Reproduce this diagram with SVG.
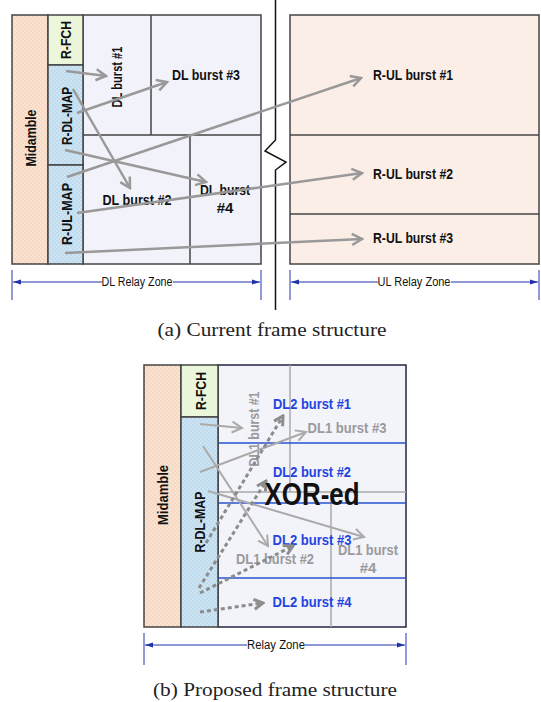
<svg xmlns="http://www.w3.org/2000/svg" width="541" height="702" viewBox="0 0 541 702">
<style>
.t{font-family:"Liberation Sans Narrow","Liberation Sans",Arial,sans-serif;font-weight:bold;font-size:15px;fill:#111;}
.c{text-anchor:middle;}
.blue{fill:#1f45e0;}
.gray{fill:#9a9a9a;}
.dim{font-family:"Liberation Sans Narrow","Liberation Sans",Arial,sans-serif;font-size:12.5px;fill:#111;text-anchor:middle;}
.cap{font-family:"Liberation Serif","Times New Roman",serif;font-size:19px;fill:#222;text-anchor:middle;}
.box{stroke:#444;stroke-width:1.5;}
.arA{fill:none;stroke:#999;stroke-width:2.5;marker-end:url(#ahA);}
.arS{fill:none;stroke:#aaa;stroke-width:2;marker-end:url(#ahS);}
.arD{fill:none;stroke:#8c8c8c;stroke-width:3;stroke-dasharray:4 3;marker-end:url(#ahD);}
.bl{stroke:#2a52d0;stroke-width:1.5;}
.gl{stroke:#aaa;stroke-width:1.5;}
.dl{stroke:#2233aa;stroke-width:1;fill:none;}
.tick{stroke:#6a78c8;stroke-width:1.5;}
</style>
<defs>
<pattern id="pMid" width="4" height="4" patternUnits="userSpaceOnUse">
<rect width="4" height="4" fill="#fbe3d1"/>
<circle cx="1" cy="1" r="0.7" fill="#efc6ad"/>
<circle cx="3" cy="3" r="0.7" fill="#efc6ad"/>
</pattern>
<pattern id="pMap" width="4" height="4" patternUnits="userSpaceOnUse">
<rect width="4" height="4" fill="#cde4f3"/>
<circle cx="1" cy="1" r="0.7" fill="#a9cbe6"/>
<circle cx="3" cy="3" r="0.7" fill="#a9cbe6"/>
</pattern>
<marker id="ahA" viewBox="0 0 14 14" refX="12" refY="7" markerWidth="14" markerHeight="14" orient="auto" markerUnits="userSpaceOnUse">
<path d="M2,1.5 L12,7 L2,12.5" fill="none" stroke="#999" stroke-width="2.5"/>
</marker>
<marker id="ahS" viewBox="0 0 14 14" refX="12" refY="7" markerWidth="14" markerHeight="14" orient="auto" markerUnits="userSpaceOnUse">
<path d="M2,1.5 L12,7 L2,12.5" fill="none" stroke="#aaa" stroke-width="2"/>
</marker>
<marker id="ahD" viewBox="0 0 14 14" refX="12" refY="7" markerWidth="14" markerHeight="14" orient="auto" markerUnits="userSpaceOnUse">
<path d="M3,2 L12,7 L3,12" fill="none" stroke="#8c8c8c" stroke-width="3"/>
</marker>
<marker id="dimA" viewBox="0 0 8 6" refX="8" refY="3" markerWidth="8" markerHeight="6" orient="auto" markerUnits="userSpaceOnUse">
<path d="M0,0.5 L8,3 L0,5.5 Z" fill="#2233aa"/>
</marker>
</defs>
<rect width="541" height="702" fill="#fff"/>

<!-- ===== (a) Current frame structure ===== -->
<g id="a-dl-area"><rect x="83" y="15" width="178" height="249" fill="#f2f2fa" class="box"/></g>
<g id="a-midamble"><rect x="12" y="15" width="36" height="249" fill="url(#pMid)" class="box"/>
<text class="t c" transform="translate(31,138) rotate(-90)" y="5" textLength="57" lengthAdjust="spacingAndGlyphs">Midamble</text></g>
<g id="a-rfch"><rect x="48" y="15" width="35" height="50" fill="#ebf6da" class="box"/>
<text class="t c" transform="translate(66,40) rotate(-90)" y="5" textLength="38" lengthAdjust="spacingAndGlyphs">R-FCH</text></g>
<g id="a-rdlmap"><rect x="48" y="65" width="35" height="100" fill="url(#pMap)" class="box"/>
<text class="t c" transform="translate(67,116) rotate(-90)" y="5" textLength="58" lengthAdjust="spacingAndGlyphs">R-DL-MAP</text></g>
<g id="a-rulmap"><rect x="48" y="165" width="35" height="99" fill="url(#pMap)" class="box"/>
<text class="t c" transform="translate(67,214) rotate(-90)" y="5" textLength="62" lengthAdjust="spacingAndGlyphs">R-UL-MAP</text></g>
<g id="a-dl1"><line x1="151" y1="15" x2="151" y2="135" class="box"/>
<text class="t c" transform="translate(117,77) rotate(-90)" y="5" textLength="61" lengthAdjust="spacingAndGlyphs">DL burst #1</text></g>
<g id="a-dl3"><text class="t c" x="206" y="80" textLength="68" lengthAdjust="spacingAndGlyphs">DL burst #3</text></g>
<g id="a-dl2"><line x1="83" y1="135" x2="261" y2="135" class="box"/>
<text class="t c" x="137" y="205" textLength="69" lengthAdjust="spacingAndGlyphs">DL burst #2</text></g>
<g id="a-dl4"><line x1="190" y1="135" x2="190" y2="264" class="box"/>
<text class="t c" x="225" y="195" textLength="50" lengthAdjust="spacingAndGlyphs">DL burst</text>
<text class="t c" x="225" y="213">#4</text></g>

<g id="a-break"><path d="M275.5,0 V140 L265,151 L286,162 L275.5,170 V310" fill="none" stroke="#111" stroke-width="1.5"/></g>

<g id="a-ul-area"><rect x="290" y="15" width="249" height="249" fill="#fbeee6" class="box"/>
<line x1="290" y1="135" x2="539" y2="135" class="box"/>
<line x1="290" y1="214" x2="539" y2="214" class="box"/></g>
<g id="a-ul1"><text class="t c" x="413" y="80" textLength="80" lengthAdjust="spacingAndGlyphs">R-UL burst #1</text></g>
<g id="a-ul2"><text class="t c" x="413" y="179" textLength="80" lengthAdjust="spacingAndGlyphs">R-UL burst #2</text></g>
<g id="a-ul3"><text class="t c" x="413" y="243" textLength="80" lengthAdjust="spacingAndGlyphs">R-UL burst #3</text></g>

<g id="a-connectors">
<line x1="66" y1="71" x2="106" y2="76" class="arA"/>
<line x1="77" y1="113" x2="167" y2="82" class="arA"/>
<line x1="73" y1="89" x2="130" y2="188" class="arA"/>
<line x1="65" y1="150" x2="206" y2="182" class="arA"/>
<line x1="67" y1="177" x2="361" y2="78" class="arA"/>
<line x1="77" y1="213" x2="362" y2="173" class="arA"/>
<line x1="65" y1="253" x2="362" y2="239" class="arA"/>
</g>

<g id="a-dim">
<line x1="12" y1="270" x2="12" y2="300" class="tick"/>
<line x1="261" y1="270" x2="261" y2="300" class="tick"/>
<line x1="290" y1="270" x2="290" y2="300" class="tick"/>
<line x1="539" y1="270" x2="539" y2="300" class="tick"/>
<line x1="102" y1="282" x2="13" y2="282" class="dl" marker-end="url(#dimA)"/>
<line x1="173" y1="282" x2="260" y2="282" class="dl" marker-end="url(#dimA)"/>
<text class="dim" x="137" y="286" textLength="71" lengthAdjust="spacingAndGlyphs">DL Relay Zone</text>
<line x1="378" y1="282" x2="291" y2="282" class="dl" marker-end="url(#dimA)"/>
<line x1="451" y1="282" x2="538" y2="282" class="dl" marker-end="url(#dimA)"/>
<text class="dim" x="414" y="286" textLength="73" lengthAdjust="spacingAndGlyphs">UL Relay Zone</text>
</g>
<text class="cap" x="272" y="336" textLength="229" lengthAdjust="spacingAndGlyphs">(a) Current frame structure</text>

<!-- ===== (b) Proposed frame structure ===== -->
<g id="b-area"><rect x="218" y="365" width="188" height="262" fill="#f3f3fa" stroke="#222640" stroke-width="1.5"/>
<line x1="290" y1="365" x2="290" y2="492" class="gl"/>
<line x1="218" y1="492" x2="406" y2="492" class="gl"/>
<line x1="331" y1="492" x2="331" y2="627" class="gl"/>
<line x1="218" y1="443" x2="406" y2="443" class="bl"/>
<line x1="218" y1="503" x2="406" y2="503" class="bl"/>
<line x1="218" y1="578" x2="406" y2="578" class="bl"/></g>
<g id="b-midamble"><rect x="144" y="365" width="37" height="262" fill="url(#pMid)" class="box"/>
<text class="t c" transform="translate(163,495) rotate(-90)" y="5" textLength="60" lengthAdjust="spacingAndGlyphs">Midamble</text></g>
<g id="b-rfch"><rect x="181" y="365" width="37" height="52" fill="#ebf6da" class="box"/>
<text class="t c" transform="translate(201,391) rotate(-90)" y="5" textLength="38" lengthAdjust="spacingAndGlyphs">R-FCH</text></g>
<g id="b-rdlmap"><rect x="181" y="417" width="37" height="210" fill="url(#pMap)" class="box"/>
<text class="t c" transform="translate(200,522) rotate(-90)" y="5" textLength="61" lengthAdjust="spacingAndGlyphs">R-DL-MAP</text></g>

<g id="b-dl1-1"><text class="t c gray" transform="translate(254,429) rotate(-90)" y="5" textLength="75" lengthAdjust="spacingAndGlyphs">DL1 burst #1</text></g>
<g id="b-dl2-1"><text class="t c blue" x="312" y="409" textLength="78" lengthAdjust="spacingAndGlyphs">DL2 burst #1</text></g>
<g id="b-dl1-3"><text class="t c gray" x="347" y="433" textLength="79" lengthAdjust="spacingAndGlyphs">DL1 burst #3</text></g>
<g id="b-dl2-2"><text class="t c blue" x="312" y="477" textLength="78" lengthAdjust="spacingAndGlyphs">DL2 burst #2</text></g>
<g id="b-dl2-3"><text class="t c blue" x="312" y="545" textLength="79" lengthAdjust="spacingAndGlyphs">DL2 burst #3</text></g>
<g id="b-dl1-2"><text class="t c gray" x="275" y="564" textLength="78" lengthAdjust="spacingAndGlyphs">DL1 burst #2</text></g>
<g id="b-dl1-4"><text class="t c gray" x="368" y="555" textLength="60" lengthAdjust="spacingAndGlyphs">DL1 burst</text>
<text class="t c gray" x="368" y="573">#4</text></g>
<g id="b-dl2-4"><text class="t c blue" x="312" y="607" textLength="79" lengthAdjust="spacingAndGlyphs">DL2 burst #4</text></g>

<g id="b-connectors">
<line x1="200" y1="424" x2="242" y2="428" class="arS"/>
<line x1="200" y1="472" x2="306" y2="432" class="arS"/>
<line x1="203" y1="446" x2="268" y2="546" class="arS"/>
<line x1="208" y1="491" x2="364" y2="537" class="arS"/>
<line x1="206" y1="543" x2="283" y2="416" class="arD"/>
<line x1="199" y1="588" x2="266" y2="481" class="arD"/>
<line x1="200" y1="593" x2="293" y2="546" class="arD"/>
<line x1="200" y1="612" x2="263" y2="603" class="arD"/>
</g>
<g id="b-xor"><text class="t c" x="312" y="505" style="font-size:32px" textLength="95" lengthAdjust="spacingAndGlyphs">XOR-ed</text></g>

<g id="b-dim">
<line x1="144" y1="633" x2="144" y2="665" class="tick"/>
<line x1="406" y1="633" x2="406" y2="665" class="tick"/>
<line x1="247" y1="645" x2="145" y2="645" class="dl" marker-end="url(#dimA)"/>
<line x1="305" y1="645" x2="405" y2="645" class="dl" marker-end="url(#dimA)"/>
<text class="dim" x="276" y="649" textLength="58" lengthAdjust="spacingAndGlyphs">Relay Zone</text>
</g>
<text class="cap" x="275" y="696" textLength="244" lengthAdjust="spacingAndGlyphs">(b) Proposed frame structure</text>
</svg>
